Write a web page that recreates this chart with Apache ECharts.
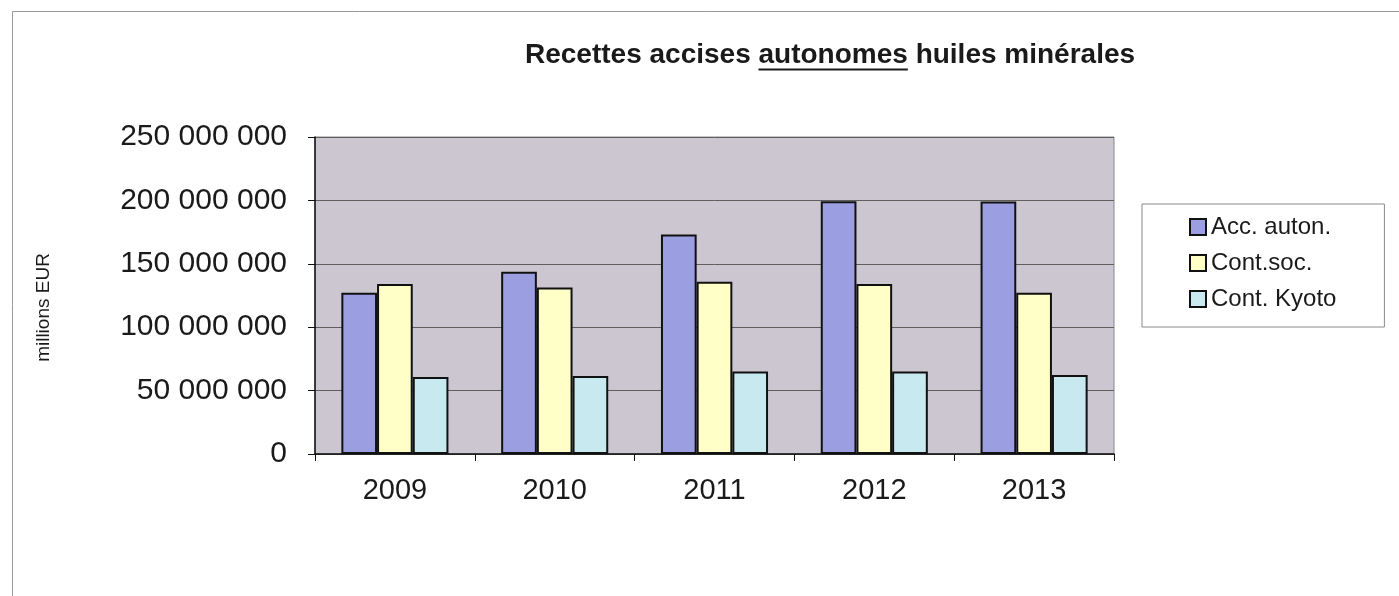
<!DOCTYPE html>
<html>
<head>
<meta charset="utf-8">
<script src="https://cdn.jsdelivr.net/npm/echarts@6/dist/echarts.min.js"></script>
<style>
html,body{margin:0;padding:0;background:#ffffff;}
#chart{width:1399px;height:596px;}
</style>
</head>
<body>
<div id="chart"></div>
<script>
const categories = ['2009', '2010', '2011', '2012', '2013'];
const seriesNames = ['Acc. auton.', 'Cont.soc.', 'Cont. Kyoto'];
const accAuton = [127200000, 143700000, 173100000, 199400000, 199100000];
const contSoc = [134000000, 131300000, 135800000, 134000000, 127200000];
const contKyoto = [60800000, 61600000, 65000000, 65000000, 62400000];
const titlePrefix = 'Recettes accises ';
const titleWord = 'autonomes';
const titleSuffix = ' huiles minérales';
const yAxisName = 'millions EUR';

const FONT = "'Liberation Sans', Arial, sans-serif";
const TITLE_SIZE = 28;
const TITLE_LEFT = 525;

function fmt(v) {
  return String(v).replace(/\B(?=(\d{3})+(?!\d))/g, ' ');
}
function measure(text, font) {
  const c = document.createElement('canvas').getContext('2d');
  c.font = font;
  return c.measureText(text).width;
}
const tFont = 'bold ' + TITLE_SIZE + 'px ' + FONT;
const ulX1 = TITLE_LEFT + measure(titlePrefix, tFont);
const ulX2 = ulX1 + measure(titleWord, tFont);

const colors = ['#9b9fe2', '#ffffc8', '#c8e9ef'];
const dataSets = [accAuton, contSoc, contKyoto];

const chart = echarts.init(document.getElementById('chart'), null, {renderer: 'canvas'});
chart.setOption({
  backgroundColor: '#ffffff',
  animation: false,
  title: {
    text: titlePrefix + titleWord + titleSuffix,
    left: TITLE_LEFT,
    top: 41,
    padding: 0,
    textStyle: {fontFamily: FONT, fontSize: TITLE_SIZE, fontWeight: 'bold', color: '#1a1a1a'}
  },
  graphic: [
    {type: 'rect', shape: {x: 12.5, y: 11.5, width: 1500, height: 700},
     style: {fill: 'none', stroke: '#9a9a9a', lineWidth: 1}, silent: true, z: 0},
    {type: 'line', shape: {x1: ulX1, y1: 69.5, x2: ulX2, y2: 69.5},
     style: {stroke: '#1a1a1a', lineWidth: 2}, silent: true, z: 10}
  ],
  legend: {
    orient: 'vertical',
    left: 1142,
    top: 204,
    padding: [11, 48, 16, 47],
    itemGap: 12,
    itemWidth: 16,
    itemHeight: 16,
    icon: 'rect',
    borderColor: '#8a8a8a',
    borderWidth: 1,
    backgroundColor: '#ffffff',
    textStyle: {fontFamily: FONT, fontSize: 24, color: '#1a1a1a', lineHeight: 24},
    data: seriesNames
  },
  grid: {
    left: 315, top: 137, right: 285, bottom: 142,
    show: true, backgroundColor: '#cbc6d0', borderColor: '#8a8a8a', borderWidth: 1,
    containLabel: false
  },
  xAxis: {
    type: 'category',
    data: categories,
    axisLine: {lineStyle: {color: '#111', width: 1.5}},
    axisTick: {show: true, length: 7, inside: false, lineStyle: {color: '#111', width: 1}},
    axisLabel: {fontFamily: FONT, fontSize: 29, color: '#1a1a1a', margin: 22}
  },
  yAxis: {
    type: 'value',
    min: 0, max: 250000000, interval: 50000000,
    name: yAxisName,
    nameLocation: 'middle',
    nameRotate: 90,
    nameGap: 262,
    nameTextStyle: {fontFamily: FONT, fontSize: 19, color: '#1a1a1a', padding: [0, 24, 0, 0]},
    axisLine: {show: true, lineStyle: {color: '#111', width: 1.5}},
    axisTick: {show: true, length: 7, inside: false, lineStyle: {color: '#111', width: 1}},
    splitLine: {show: true, lineStyle: {color: '#5e5e5e', width: 1}},
    axisLabel: {fontFamily: FONT, fontSize: 30, color: '#1a1a1a', margin: 28, formatter: fmt}
  },
  series: seriesNames.map((n, i) => ({
    name: n,
    type: 'bar',
    data: dataSets[i],
    barGap: '0%',
    barCategoryGap: '33%',
    itemStyle: {color: colors[i], borderColor: '#111', borderWidth: 2}
  }))
});
</script>
</body>
</html>
